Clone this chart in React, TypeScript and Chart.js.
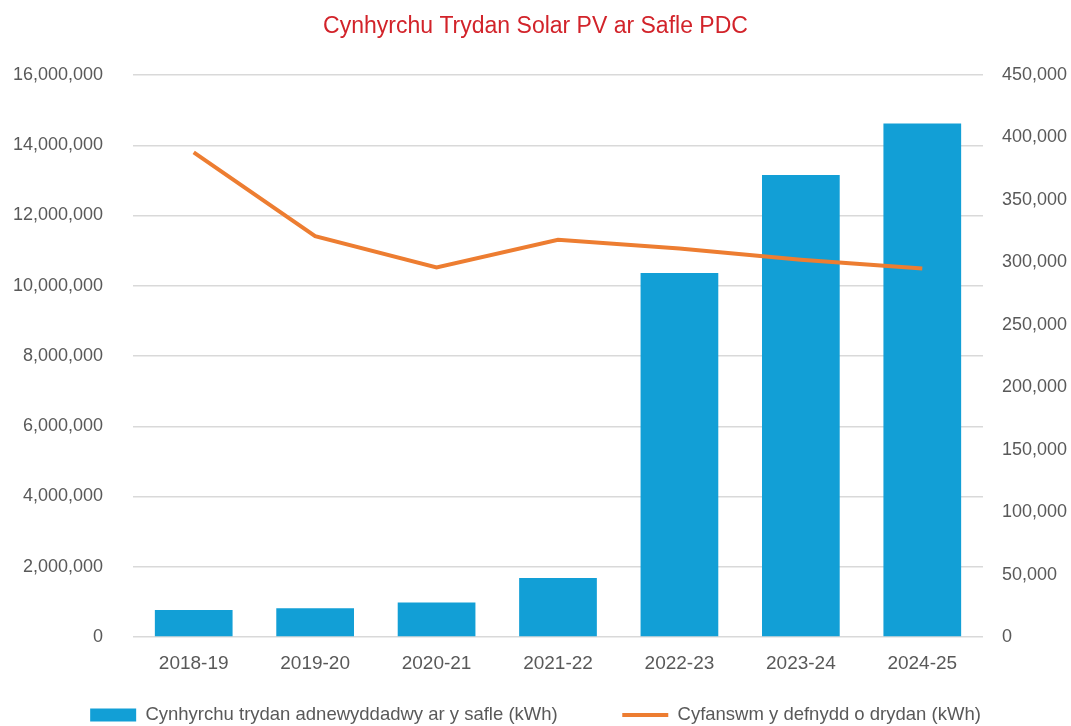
import React, { useEffect, useRef } from "react";
import { Chart, registerables } from "chart.js";

Chart.register(...registerables);

const categories = ["2018-19", "2019-20", "2020-21", "2021-22", "2022-23", "2023-24", "2024-25"];
const solarGeneration = [770000, 820000, 980000, 1680000, 10360000, 13150000, 14620000];
const totalConsumption = [388000, 321000, 296000, 318000, 311000, 302000, 295000];
const barLabel = "Cynhyrchu trydan adnewyddadwy ar y safle (kWh)";
const lineLabel = "Cyfanswm y defnydd o drydan (kWh)";
const titleText = "Cynhyrchu Trydan Solar PV ar Safle PDC";

const FONT = "'Liberation Sans', Arial, sans-serif";
const GREY = "#595959";
const LEGEND_GAP = "           ";

export default function App() {
  const ref = useRef<HTMLCanvasElement | null>(null);
  useEffect(() => {
    document.body.style.margin = "0";
    const ctx = ref.current;
    if (!ctx) return;
    const chart = new Chart(ctx, {
      type: "bar",
      data: {
        labels: categories,
        datasets: [
          {
            type: "bar",
            label: barLabel,
            data: solarGeneration,
            backgroundColor: "#129FD6",
            yAxisID: "y",
            order: 1,
            categoryPercentage: 1,
            barPercentage: 0.64,
          } as any,
          {
            type: "line",
            label: lineLabel,
            data: totalConsumption,
            borderColor: "#ED7D31",
            backgroundColor: "#ED7D31",
            borderWidth: 4,
            pointRadius: 0,
            tension: 0,
            yAxisID: "y1",
            order: 0,
          } as any,
        ],
      },
      options: {
        animation: false,
        responsive: false,
        layout: { padding: 0 },
        plugins: {
          title: {
            display: true,
            text: titleText,
            color: "#D2232A",
            font: { family: FONT, size: 23, weight: "normal" },
            padding: { top: 13, bottom: 34.4 },
          },
          legend: {
            position: "bottom",
            maxHeight: 28.25,
            labels: {
              usePointStyle: true,
              pointStyleWidth: 46,
              boxHeight: 13,
              color: GREY,
              padding: 8,
              font: { family: FONT, size: 18.5 },
              sort: (a: any, b: any) => a.datasetIndex - b.datasetIndex,
              generateLabels: (c: any) => {
                const items = Chart.defaults.plugins.legend.labels.generateLabels(c);
                return items.map((it: any) => {
                  if (it.datasetIndex === 0) {
                    return { ...it, pointStyle: "rect", text: it.text + LEGEND_GAP, lineWidth: 0 };
                  }
                  return { ...it, pointStyle: "line", lineWidth: 4, strokeStyle: "#ED7D31" };
                });
              },
            },
          },
          tooltip: { enabled: false },
        },
        scales: {
          x: {
            grid: { display: false, drawTicks: false },
            border: { display: false },
            ticks: { color: GREY, padding: 15, font: { family: FONT, size: 19 } },
            afterFit: (s: any) => { s.height = 60.75; },
          },
          y: {
            position: "left",
            min: 0,
            max: 16000000,
            grid: { color: "#D9D9D9", lineWidth: 1.5, drawTicks: false },
            border: { display: false },
            ticks: {
              stepSize: 2000000,
              color: GREY,
              padding: 30,
              font: { family: FONT, size: 18 },
              callback: (v: any) => Number(v).toLocaleString("en-US"),
            },
            afterFit: (s: any) => { s.width = 133; },
          },
          y1: {
            position: "right",
            min: 0,
            max: 450000,
            grid: { display: false, drawTicks: false },
            border: { display: false },
            ticks: {
              stepSize: 50000,
              color: GREY,
              padding: 19,
              font: { family: FONT, size: 18 },
              callback: (v: any) => Number(v).toLocaleString("en-US"),
            },
            afterFit: (s: any) => { s.width = 88; },
          },
        },
      } as any,
    });
    return () => chart.destroy();
  }, []);
  return (
    <div style={{ width: 1071, height: 726, background: "#fff" }}>
      <canvas ref={ref} width={1071} height={726} />
    </div>
  );
}
